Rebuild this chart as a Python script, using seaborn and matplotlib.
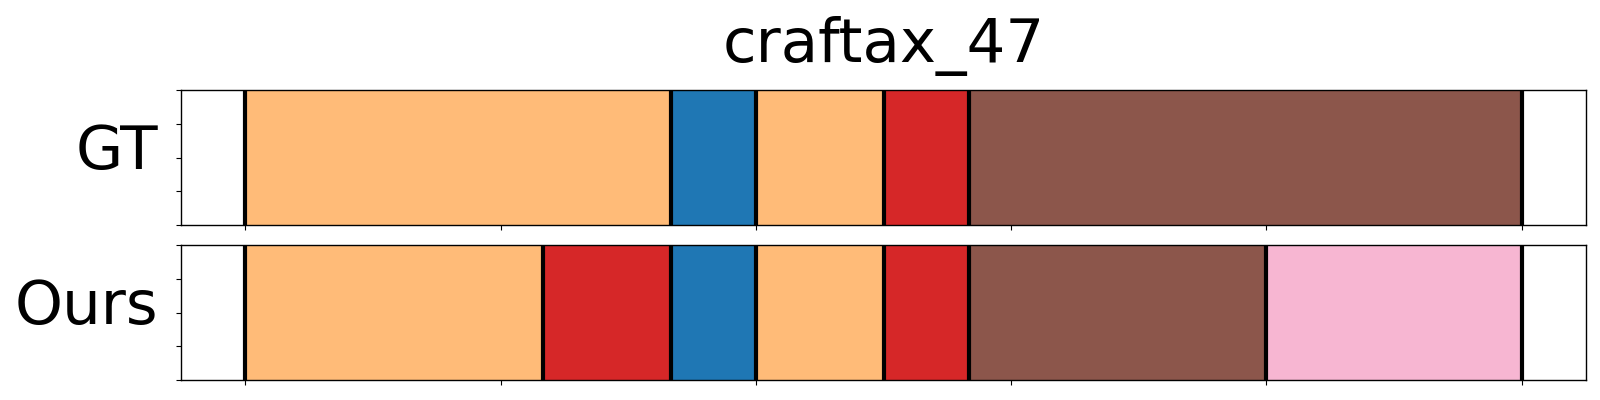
import numpy as np
import matplotlib
matplotlib.use("Agg")
import matplotlib.pyplot as plt
import seaborn as sns

# ─────────────────────────────────────────────
# DATOS (duración de cada segmento, en pasos, y su clase)
# ─────────────────────────────────────────────
TITULO = "craftax_47"
FILAS = ["GT", "Ours"]

gt_duraciones = [10, 2, 3, 2, 13]
gt_clases     = [3, 0, 3, 6, 10]

ours_duraciones = [7, 3, 2, 3, 2, 7, 6]
ours_clases     = [3, 6, 0, 3, 6, 10, 13]

PASO_TICKS = 6

sns.set_style("ticks", {"axes.edgecolor": "black", "xtick.color": "black",
                        "ytick.color": "black", "text.color": "black",
                        "axes.labelcolor": "black"})
plt.rcParams['font.family'] = ['DejaVu Sans']
paleta = sns.color_palette("tab20")

fig = plt.figure(figsize=(16, 4), dpi=100)
ax_gt = fig.add_axes([0.1134, 0.4375, 0.8776, 0.3375])
ax_ours = fig.add_axes([0.1134, 0.05, 0.8776, 0.3375])

for ax, nombre, duraciones, clases in [(ax_gt, FILAS[0], gt_duraciones, gt_clases),
                                       (ax_ours, FILAS[1], ours_duraciones, ours_clases)]:
    duraciones = np.array(duraciones)
    inicios = np.concatenate([[0], np.cumsum(duraciones)[:-1]])
    total = duraciones.sum()
    colores = [paleta[c] for c in clases]
    ax.barh(0.5, duraciones, left=inicios, height=1.0, color=colores,
            edgecolor=colores, linewidth=0.5, align='center')
    for x in list(inicios) + [total]:
        ax.axvline(x, color='black', linewidth=3, zorder=3)
    ax.set_xlim(-0.05 * total, 1.05 * total)
    ax.set_ylim(0, 1)
    ax.set_xticks(np.arange(0, total + 1, PASO_TICKS))
    ax.set_xticklabels([])
    ax.set_yticks([0, 0.25, 0.5, 0.75, 1.0])
    ax.set_yticklabels([])
    ax.tick_params(length=3.5, width=0.8)
    for s in ax.spines.values():
        s.set_linewidth(1.0)
        s.set_color('black')
    ax.set_ylabel(nombre, fontsize=44, rotation=0, ha='right', va='center', color='black')
    ax.yaxis.set_label_coords(-0.0165, 0.54)

ax_gt.set_title(TITULO, fontsize=44, pad=20, color='black')

plt.savefig("out.png", dpi=100)
